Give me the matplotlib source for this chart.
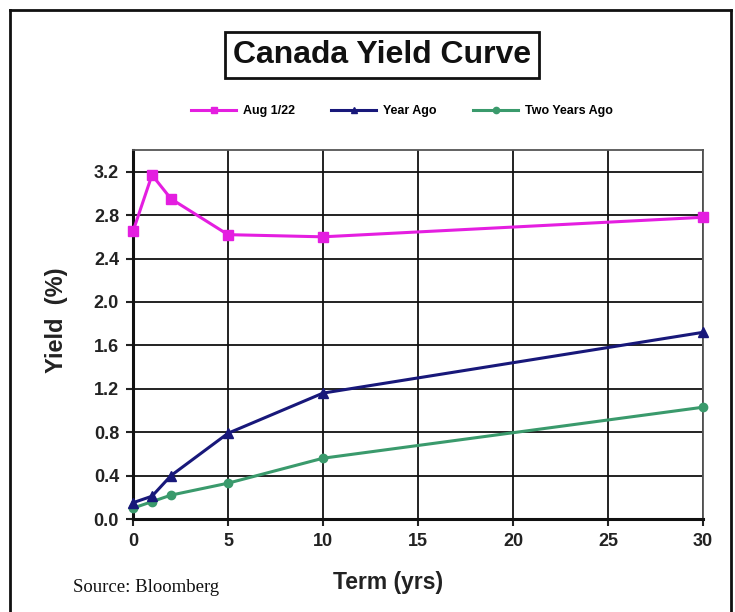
import matplotlib
matplotlib.use("Agg")
import matplotlib.pyplot as plt
from matplotlib.lines import Line2D

# Term (years) and yields (%)
terms = [0, 1, 2, 5, 10, 30]
aug_1_22 = [2.65, 3.17, 2.95, 2.62, 2.60, 2.78]
year_ago = [0.15, 0.21, 0.40, 0.79, 1.16, 1.72]
two_years_ago = [0.10, 0.16, 0.22, 0.33, 0.56, 1.03]

series_labels = ["Aug 1/22", "Year Ago", "Two Years Ago"]
x_ticks = [0, 5, 10, 15, 20, 25, 30]
y_ticks = [0.0, 0.4, 0.8, 1.2, 1.6, 2.0, 2.4, 2.8, 3.2]

plt.rcParams["font.family"] = ["Liberation Sans", "DejaVu Sans"]

fig = plt.figure(figsize=(7.35, 6.12), dpi=100)
ax = fig.add_axes([133 / 735, 1 - 519 / 612, (703 - 133) / 735, (519 - 150) / 612])

c_mag = "#e41ee0"
c_navy = "#18187a"
c_green = "#3a9a6c"

ax.plot(terms, aug_1_22, color=c_mag, lw=2.2, marker="s", ms=7, label=series_labels[0], zorder=5, clip_on=False)
ax.plot(terms, year_ago, color=c_navy, lw=2.2, marker="^", ms=6.5, label=series_labels[1], zorder=5, clip_on=False)
ax.plot(terms, two_years_ago, color=c_green, lw=2.2, marker="o", ms=6, label=series_labels[2], zorder=4, clip_on=False)

ax.set_xlim(0, 30)
ax.set_ylim(0, 3.4)
ax.set_xticks(x_ticks)
ax.set_yticks(y_ticks)
ax.set_yticklabels([f"{v:.1f}" for v in y_ticks])
ax.grid(True, color="#111111", lw=1.3)
ax.set_axisbelow(True)
ax.tick_params(axis="both", direction="out", length=5, width=1.5, colors="#222222",
               labelsize=13, pad=5)
for lbl in ax.get_xticklabels() + ax.get_yticklabels():
    lbl.set_fontweight("bold")
    lbl.set_color("#222222")
for side in ["left", "bottom"]:
    ax.spines[side].set_linewidth(2.2)
    ax.spines[side].set_color("#111111")
for side in ["top", "right"]:
    ax.spines[side].set_linewidth(1.3)
    ax.spines[side].set_color("#555555")

ax.set_xlabel("Term (yrs)", fontsize=16.5, fontweight="bold", color="#222222")
ax.xaxis.set_label_coords((388 - 133) / 570, (519 - 583) / 369)
ax.xaxis.label.set_va("center")
ax.set_ylabel("Yield  (%)", fontsize=17, fontweight="bold", color="#222222")
ax.yaxis.set_label_coords((57 - 133) / 570, (519 - 320) / 369)
ax.yaxis.label.set_va("center")

# Title in a box
fig.text(382 / 735, 1 - 55 / 612, "Canada Yield Curve", ha="center", va="center",
         fontsize=23, fontweight="bold", color="#111111",
         bbox=dict(boxstyle="square,pad=0.24", fc="white", ec="#111111", lw=2))

# Legend
leg = fig.legend(loc="center", bbox_to_anchor=(402 / 735, 1 - 111 / 612), ncol=3, frameon=False,
                 handlelength=3.6, columnspacing=2.9, handletextpad=0.55,
                 prop={"size": 9, "weight": "bold"})
for h in leg.legend_handles:
    h.set_markersize(4.5)

fig.text(73 / 735, 1 - 588 / 612, "Source: Bloomberg", ha="left", va="center",
         fontsize=13.5, family=["Liberation Serif", "DejaVu Serif"], color="#111111")

# Outer frame
frame_kw = dict(color="#111111", lw=2, transform=fig.transFigure)
fig.add_artist(Line2D([10 / 735, 10 / 735], [0, 1 - 10 / 612], **frame_kw))
fig.add_artist(Line2D([10 / 735, 731 / 735], [1 - 10 / 612, 1 - 10 / 612], **frame_kw))
fig.add_artist(Line2D([731 / 735, 731 / 735], [0, 1 - 10 / 612], **frame_kw))

fig.savefig("out.png", dpi=100, facecolor="white")
